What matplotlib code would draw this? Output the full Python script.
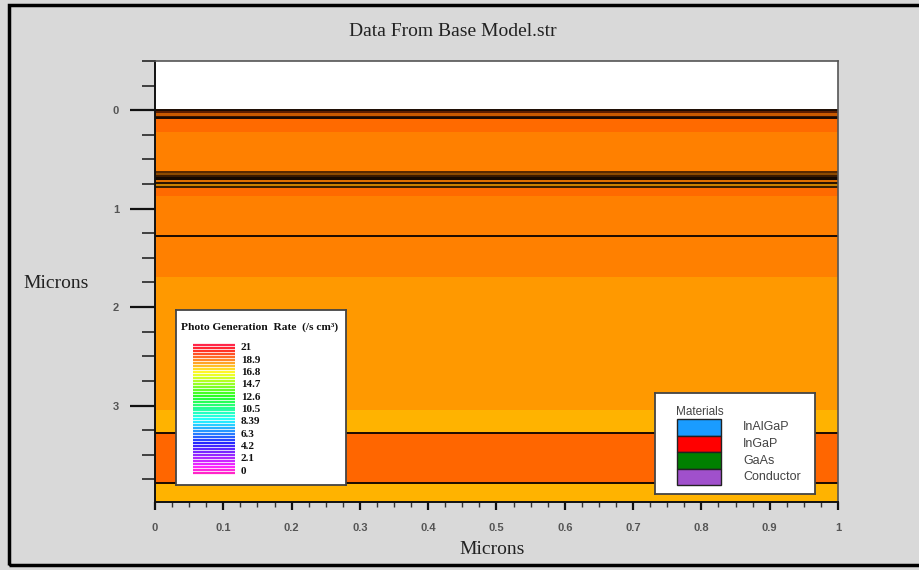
import numpy as np
import matplotlib
matplotlib.use("Agg")
import matplotlib.pyplot as plt
from matplotlib.patches import Rectangle
from matplotlib.ticker import MultipleLocator

# layer stack (microns, depth from the surface) and the fill colour of each
layer_top = [0.00, 0.03, 0.06, 0.08, 0.22, 0.618, 0.638, 0.659, 0.679, 0.709,
             0.729, 0.75, 0.77, 0.79, 0.871, 1.69, 3.05, 3.28, 3.79]
layer_bottom = layer_top[1:] + [3.98]
layer_color = ["#5C1E00", "#C85A00", "#3A1500", "#FF6A00", "#FF8000",
               "#5A2A00", "#8C4A00", "#3A1A00", "#140800", "#E07000",
               "#2A1400", "#C88000", "#3A2000", "#FF6A00", "#FF8000",
               "#FF9900", "#FFB300", "#FF6600", "#FFB300"]
boundary_lines = [0.0, 0.078, 1.276, 3.28, 3.79]

# photo generation colour scale
rate_labels = ["21", "18.9", "16.8", "14.7", "12.6", "10.5", "8.39", "6.3",
               "4.2", "2.1", "0"]
rate_max = 21.0
n_stripes = 44

materials = ["InAlGaP", "InGaP", "GaAs", "Conductor"]
material_colors = ["#1A9CFF", "#FF0000", "#008000", "#A050CC"]

W, H = 920, 570
bg = "#D9D9D9"
serif = ["Liberation Serif", "DejaVu Serif"]
sans = ["Liberation Sans", "DejaVu Sans"]


def px_box(x0, y0, x1, y1):
    return [x0 / W, 1 - y1 / H, (x1 - x0) / W, (y1 - y0) / H]


fig = plt.figure(figsize=(W / 100, H / 100), dpi=100, facecolor=bg)

ax = fig.add_axes(px_box(155, 61, 838, 502))
ax.set_facecolor("white")
for top, bot, c in zip(layer_top, layer_bottom, layer_color):
    ax.axhspan(top, bot, color=c, lw=0)
for y in boundary_lines:
    ax.axhline(y, color="#1A0A00", lw=1.4)

ax.set_xlim(0, 1)
ax.set_ylim(3.98, -0.5)
ax.xaxis.set_major_locator(MultipleLocator(0.1))
ax.xaxis.set_minor_locator(MultipleLocator(0.025))
ax.yaxis.set_major_locator(MultipleLocator(1))
ax.yaxis.set_minor_locator(MultipleLocator(0.25))
ax.set_xticks(np.arange(0, 1.01, 0.1))
ax.set_xticklabels(["0", "0.1", "0.2", "0.3", "0.4", "0.5", "0.6", "0.7",
                    "0.8", "0.9", "1"])
ax.set_yticks([0, 1, 2, 3])
ax.tick_params(axis="y", which="major", length=18, width=1.6, pad=8,
               direction="out", colors="#111111", labelcolor="#555555")
ax.tick_params(axis="y", which="minor", length=9.5, width=1.3,
               direction="out", colors="#333333")
ax.tick_params(axis="x", which="major", length=6, width=1.6, pad=9,
               direction="out", colors="#111111", labelcolor="#555555")
ax.tick_params(axis="x", which="minor", length=3.6, width=1.0,
               direction="out", colors="#333333")
for lab in ax.get_xticklabels() + ax.get_yticklabels():
    lab.set_fontfamily(sans)
    lab.set_fontweight("bold")
    lab.set_fontsize(8)
for s in ("left", "bottom"):
    ax.spines[s].set_color("#111111")
    ax.spines[s].set_linewidth(1.4)
for s in ("top", "right"):
    ax.spines[s].set_color("#555555")
    ax.spines[s].set_linewidth(1.2)

fig.text(453 / W, 1 - 31 / H, "Data From Base Model.str", family=serif,
         fontsize=14, ha="center", va="center", color="#222222")
fig.text(56 / W, 1 - 284 / H, "Microns", family=serif, fontsize=14,
         ha="center", va="center", color="#222222")
fig.text(492 / W, 1 - 549 / H, "Microns", family=serif, fontsize=14,
         ha="center", va="center", color="#222222")

# colour scale legend box
cax = fig.add_axes(px_box(176, 310, 346, 485))
cax.set_xlim(0, 170)
cax.set_ylim(175, 0)
cax.set_xticks([])
cax.set_yticks([])
cax.set_facecolor("white")
for s in cax.spines.values():
    s.set_color("#444444")
    s.set_linewidth(1.3)
cax.text(5, 17, "Photo Generation  Rate  (/s cm³)", family=serif,
         fontsize=8.2, fontweight="bold", ha="left", va="center", color="#111111")
cmap = plt.get_cmap("gist_rainbow")
vals = np.linspace(rate_max, 0, n_stripes)
ys = np.linspace(35, 163, n_stripes)
for v, y in zip(vals, ys):
    cax.plot([17, 59], [y, y], color=cmap(1 - v / rate_max), lw=1.6,
             alpha=0.85, solid_capstyle="butt")
for lab, y in zip(rate_labels, np.linspace(38, 161, len(rate_labels))):
    cax.text(65, y, lab, family=serif, fontsize=8, fontweight="bold",
             ha="left", va="center", color="#111111")

# materials legend box
max_ = fig.add_axes(px_box(655, 393, 815, 494))
max_.set_xlim(0, 160)
max_.set_ylim(101, 0)
max_.set_xticks([])
max_.set_yticks([])
max_.set_facecolor("white")
for s in max_.spines.values():
    s.set_color("#444444")
    s.set_linewidth(1.3)
max_.text(21, 19, "Materials", family=sans, fontsize=8.5, ha="left",
          va="center", color="#444444")
for i, (name, c) in enumerate(zip(materials, material_colors)):
    y0 = 26 + i * 16.5
    max_.add_patch(Rectangle((22, y0), 44, 16.5, facecolor=c,
                             edgecolor="#222222", lw=1.0))
    max_.text(88, y0 + 8.5, name, family=sans, fontsize=9, ha="left",
              va="center", color="#444444")

# outer frame of the window
fig.add_artist(Rectangle((9 / W, 5 / H), 1.2, 1 - 10 / H,
                         transform=fig.transFigure, fill=False,
                         edgecolor="black", lw=2.5))

fig.savefig("out.png", dpi=100, facecolor=bg)
